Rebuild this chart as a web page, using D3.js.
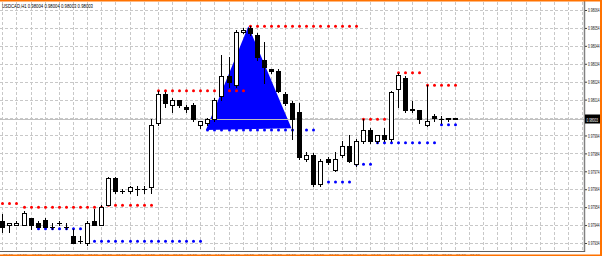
<!DOCTYPE html>
<html><head><meta charset="utf-8">
<script src="https://cdn.jsdelivr.net/npm/d3@7"></script>
<style>html,body{margin:0;padding:0;background:#fff;overflow:hidden;} svg{display:block;}</style>
</head><body><svg id="c" width="602" height="256"></svg>
<script>
const header = "USDCAD,H1  0.98004 0.98004 0.98003 0.98003";
const lastPrice = 0.98003;
const open = [0.97946,0.97944,0.97944,0.97944,0.97948,0.97945,0.97947,0.97943,0.97945,0.97943,
 0.97938,0.97935,0.97934,0.97946,0.97944,0.97955,0.97970,0.97963,0.97963,0.97964,
 0.97964,0.97965,0.98001,0.98017,0.98011,0.98014,0.98010,0.98011,0.98000,0.98001,
 0.98003,0.98016,0.98027,0.98022,0.98052,0.98054,0.98050,0.98036,0.98031,0.98030,
 0.98017,0.98012,0.98007,0.97981,0.97983,0.97967,0.97981,0.97975,0.97983,0.97988,
 0.97978,0.97991,0.97997,0.97991,0.97994,0.97992,0.98020,0.98026,0.98009,0.98008,
 0.98000,0.98005,0.98003,0.98004,0.98004];
const high = [0.97950,0.97945,0.97946,0.97952,0.97948,0.97946,0.97948,0.97945,0.97946,0.97945,
 0.97942,0.97938,0.97946,0.97953,0.97955,0.97971,0.97971,0.97964,0.97966,0.97966,
 0.97966,0.98003,0.98019,0.98018,0.98015,0.98014,0.98011,0.98012,0.98002,0.98004,
 0.98015,0.98039,0.98038,0.98053,0.98054,0.98055,0.98051,0.98046,0.98031,0.98031,
 0.98018,0.98013,0.98012,0.97985,0.97984,0.97981,0.97982,0.97985,0.97991,0.97994,
 0.97992,0.98003,0.97998,0.97994,0.97998,0.98019,0.98029,0.98027,0.98013,0.98008,
 0.98022,0.98006,0.98005,0.98004,0.98004];
const low = [0.97940,0.97940,0.97944,0.97944,0.97942,0.97943,0.97943,0.97942,0.97944,0.97942,
 0.97934,0.97934,0.97933,0.97944,0.97944,0.97955,0.97962,0.97962,0.97962,0.97961,
 0.97962,0.97962,0.98000,0.98010,0.98007,0.98010,0.98007,0.98002,0.97998,0.98000,
 0.98002,0.98014,0.98021,0.98021,0.98051,0.98050,0.98036,0.98023,0.98029,0.98018,
 0.98011,0.97992,0.97981,0.97980,0.97966,0.97966,0.97978,0.97974,0.97982,0.97979,
 0.97977,0.97990,0.97990,0.97990,0.97991,0.97991,0.98010,0.98007,0.98007,0.98001,
 0.97999,0.98002,0.98001,0.98002,0.98003];
const close = [0.97943,0.97945,0.97945,0.97951,0.97944,0.97943,0.97943,0.97943,0.97945,0.97943,
 0.97934,0.97935,0.97945,0.97944,0.97954,0.97970,0.97963,0.97963,0.97965,0.97964,
 0.97964,0.98000,0.98017,0.98012,0.98014,0.98011,0.98009,0.98003,0.98002,0.98003,
 0.98014,0.98027,0.98024,0.98052,0.98053,0.98051,0.98038,0.98032,0.98030,0.98019,
 0.98012,0.98003,0.97982,0.97983,0.97967,0.97980,0.97979,0.97981,0.97988,0.97980,
 0.97991,0.97997,0.97991,0.97994,0.97992,0.98018,0.98028,0.98008,0.98008,0.98003,
 0.98002,0.98004,0.98003,0.98003,0.98003];
const resistance = [0.97956,0.97956,0.97956,
 0.97954,0.97954,0.97954,0.97954,0.97954,0.97954,0.97954,0.97954,0.97954,0.97954,0.97954,0.97954,
 0.97955,0.97955,0.97955,0.97955,0.97955,0.97955,0.97955,
 0.98019,0.98019,0.98019,0.98019,0.98019,0.98019,0.98019,0.98019,0.98019,0.98019,0.98019,0.98019,0.98019,
 0.98055,0.98055,0.98055,0.98055,0.98055,0.98055,0.98055,0.98055,0.98055,0.98055,0.98055,0.98055,0.98055,0.98055,0.98055,0.98055,
 0.98003,0.98003,0.98003,0.98003,0.98003,
 0.98029,0.98029,0.98029,0.98029,
 0.98022,0.98022,0.98022,0.98022,0.98022];
const support = [null,null,null,null,null,
 0.97942,0.97942,0.97942,0.97942,0.97942,0.97942,0.97942,
 0.97935,0.97935,0.97935,0.97935,0.97935,0.97935,0.97935,0.97935,0.97935,0.97935,0.97935,0.97935,0.97935,0.97935,0.97935,0.97935,0.97935,
 0.97997,0.97997,0.97997,0.97997,0.97997,0.97997,0.97997,0.97997,0.97997,0.97997,0.97997,0.97997,0.97997,0.97997,0.97997,0.97997,
 0.97968,0.97968,0.97968,0.97968,0.97968,
 0.97978,0.97978,0.97978,
 0.97990,0.97990,0.97990,0.97990,0.97990,0.97990,0.97990,0.97990,0.97990,
 0.98000,0.98000,0.98000];
const triangleBar = [28.8, 34.8, 40.9];
const trianglePrice = [0.97997, 0.98055, 0.97998];
const priceTicks = [0.98064,0.98054,0.98044,0.98034,0.98024,0.98014,0.98004,0.97994,0.97984,0.97974,0.97964,0.97954,0.97944,0.97934];
const timeLabels = ["08:00","10:00","12:00","14:00","16:00","18:00","20:00","22:00",
 "00:00","02:00","04:00","06:00","08:00","10:00","12:00","14:00","16:00","18:00","20:00","22:00",
 "00:00","02:00","04:00","06:00","08:00","10:00","12:00","14:00","16:00","18:00","20:00","22:00",
 "00:00","02:00"];

const svg = d3.select("#c");
const plotRight = 584, plotBottom = 251;
const x = d3.scaleLinear().domain([0, 64]).range([2.3, 454.8]);
const y = d3.scaleLinear().domain([0.97934, 0.98064]).range([243, 10]);
const font = "Liberation Sans, Arial, sans-serif";

svg.append("rect").attr("width",602).attr("height",256).attr("fill","#fff");

// grid
const grid = svg.append("g").attr("stroke","#c8c8c8").attr("stroke-dasharray","3,2").attr("shape-rendering","crispEdges");
priceTicks.forEach(v=>{
  const yy = Math.round(y(v)) + 0.5;
  grid.append("line").attr("x1",0).attr("x2",plotRight).attr("y1",yy).attr("y2",yy);
});
for (let i = 0; i <= 82; i += 2) {
  const xx = Math.round(x(i)) + 0.5;
  if (xx > plotRight) break;
  grid.append("line").attr("x1",xx).attr("x2",xx).attr("y1",2).attr("y2",plotBottom);
}

// triangle object
const triPts = triangleBar.map((b,i)=>[x(b), y(trianglePrice[i])]);
svg.append("path").attr("d", d3.line()(triPts) + "Z").attr("fill","#0000ff");

// bid line
const yl = Math.round(y(lastPrice)) + 0.5;
svg.append("line").attr("x1",0).attr("x2",plotRight).attr("y1",yl).attr("y2",yl)
  .attr("stroke","#c0c0c0").attr("shape-rendering","crispEdges");

// dots
const dotG = svg.append("g");
resistance.forEach((v,i)=>{ if (v!=null) dotG.append("circle").attr("cx",Math.round(x(i))+0.5).attr("cy",y(v)).attr("r",1.5).attr("fill","#ff0000"); });
support.forEach((v,i)=>{ if (v!=null) dotG.append("circle").attr("cx",Math.round(x(i))+0.5).attr("cy",y(v)).attr("r",1.5).attr("fill","#0000ff"); });

// candles
const cg = svg.append("g").attr("shape-rendering","crispEdges");
open.forEach((o,i)=>{
  const c = close[i];
  const cx = Math.round(x(i));
  cg.append("line").attr("x1",cx+0.5).attr("x2",cx+0.5)
    .attr("y1",Math.round(y(high[i]))).attr("y2",Math.round(y(low[i]))+1).attr("stroke","#000");
  const top = Math.round(y(Math.max(o,c))), bot = Math.round(y(Math.min(o,c)));
  if (bot - top < 1) {
    cg.append("line").attr("x1",cx-2).attr("x2",cx+3).attr("y1",top+0.5).attr("y2",top+0.5).attr("stroke","#000");
  } else if (c < o) {
    cg.append("rect").attr("x",cx-2).attr("y",top).attr("width",5).attr("height",bot-top+1).attr("fill","#000");
  } else {
    cg.append("rect").attr("x",cx-1.5).attr("y",top+0.5).attr("width",4).attr("height",bot-top).attr("fill","#fff").attr("stroke","#000");
  }
});

// axes
svg.append("line").attr("x1",plotRight+0.5).attr("x2",plotRight+0.5).attr("y1",0).attr("y2",plotBottom+1)
  .attr("stroke","#808080").attr("stroke-width",1.5);
svg.append("line").attr("x1",0).attr("x2",plotRight+1).attr("y1",plotBottom+0.5).attr("y2",plotBottom+0.5)
  .attr("stroke","#606060").attr("stroke-width",1.2);

// price scale (the tick under the bid label is hidden by it)
const shownTicks = priceTicks.filter(v => Math.abs(y(v) - y(lastPrice)) > 6);
const yAxis = d3.axisRight(y).tickValues(shownTicks).tickSize(2).tickPadding(1).tickFormat(d3.format(".5f"));
const ya = svg.append("g").attr("transform",`translate(${plotRight+1},0)`).call(yAxis);
ya.select(".domain").remove();
ya.selectAll("line").attr("stroke","#404040");
ya.selectAll("text").attr("font-family",font).attr("font-size",5.5).attr("fill","#111")
  .attr("textLength",11.5).attr("lengthAdjust","spacingAndGlyphs");

// bid label
svg.append("rect").attr("x",plotRight+1).attr("y",yl-5).attr("width",15).attr("height",9).attr("fill","#000");
svg.append("text").attr("x",plotRight+2.5).attr("y",yl+2).attr("font-family",font).attr("font-size",5.5)
  .attr("fill","#fff").attr("textLength",11.5).attr("lengthAdjust","spacingAndGlyphs").text(d3.format(".5f")(lastPrice));

// time labels
timeLabels.forEach((t,k)=>{
  svg.append("text").attr("x",Math.round(x(2*k))+1).attr("y",257.5).attr("font-family",font).attr("font-size",5)
    .attr("fill","#444").attr("textLength",10).attr("lengthAdjust","spacingAndGlyphs").text(t);
});

// header
svg.append("text").attr("x",2).attr("y",7.5).attr("font-family",font).attr("font-size",6)
  .attr("fill","#000").attr("textLength",91).attr("lengthAdjust","spacingAndGlyphs").text(header);

// frame
svg.append("rect").attr("x",0).attr("y",0).attr("width",602).attr("height",1.5).attr("fill","#ff7200");
svg.append("rect").attr("x",600).attr("y",0).attr("width",2).attr("height",256).attr("fill","#ff7200");
svg.append("rect").attr("x",0).attr("y",254.5).attr("width",602).attr("height",1.5).attr("fill","#ff7200");
</script></body></html>
